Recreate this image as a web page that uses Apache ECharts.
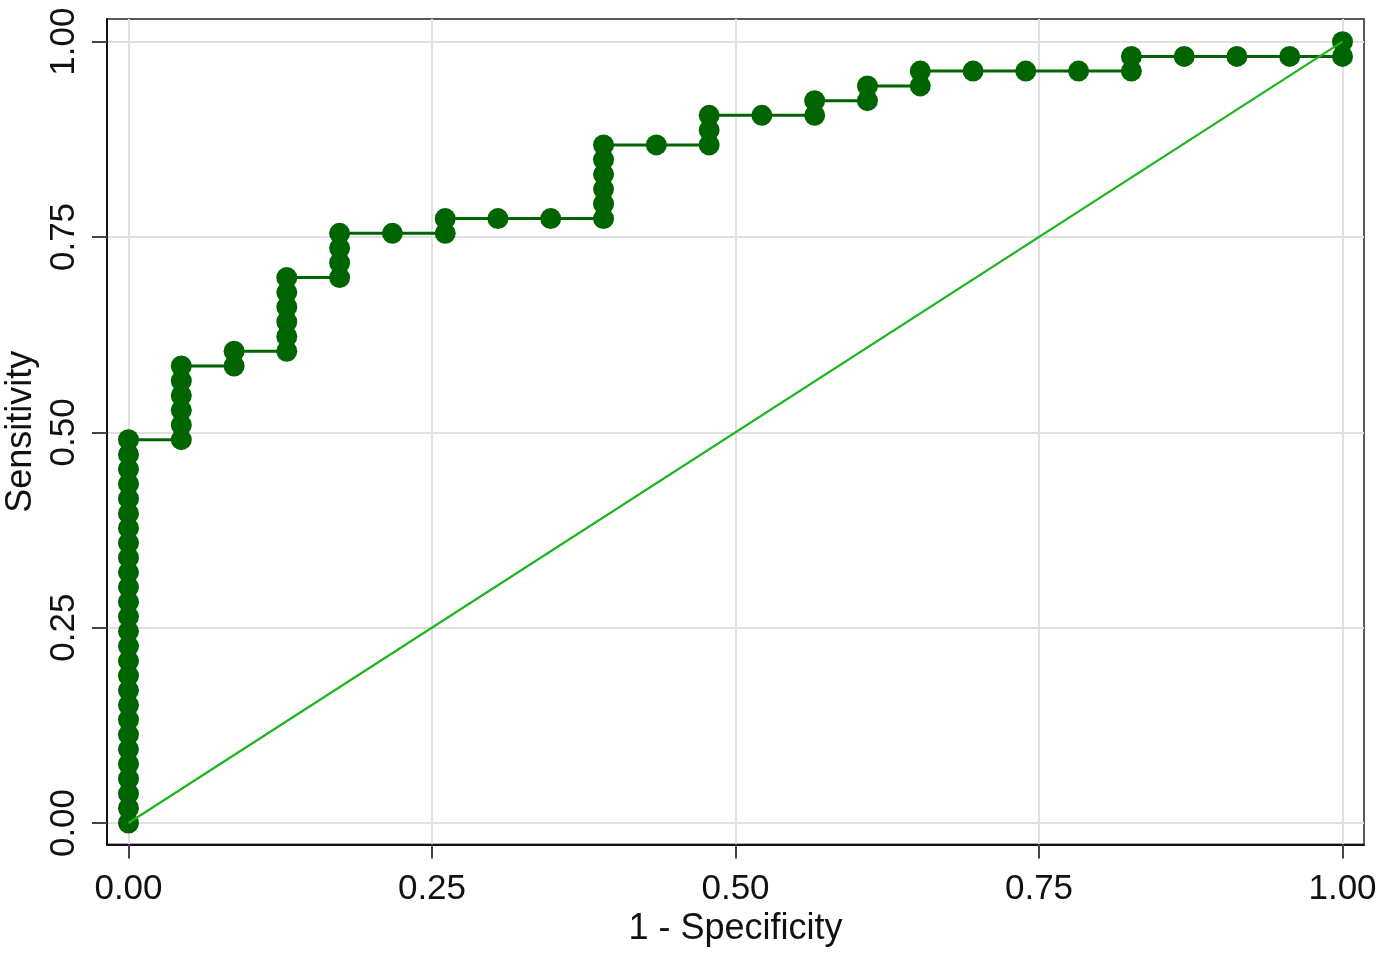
<!DOCTYPE html>
<html>
<head>
<meta charset="utf-8">
<script src="https://cdn.jsdelivr.net/npm/echarts@6/dist/echarts.min.js"></script>
<style>
html,body{margin:0;padding:0;background:#fff;}
#chart{width:1385px;height:953px;}
</style>
</head>
<body>
<div id="chart"></div>
<script>
// ROC points: 1 - Specificity (x) and Sensitivity (y)
const fpr = [
  0,0,0,0,0,0,0,0,0,0,0,0,0,0,0,0,0,0,0,0,0,0,0,0,0,0,0,
  0.0435,0.0435,0.0435,0.0435,0.0435,0.0435,
  0.0870,0.0870,
  0.1304,0.1304,0.1304,0.1304,0.1304,0.1304,
  0.1739,0.1739,0.1739,0.1739,
  0.2174,
  0.2609,0.2609,
  0.3043,
  0.3478,
  0.3913,0.3913,0.3913,0.3913,0.3913,0.3913,
  0.4348,
  0.4783,0.4783,0.4783,
  0.5217,
  0.5652,0.5652,
  0.6087,0.6087,
  0.6522,0.6522,
  0.6957,
  0.7391,
  0.7826,
  0.8261,0.8261,
  0.8696,
  0.9130,
  0.9565,
  1,1
];
const sensitivity = [
  0,0.0189,0.0377,0.0566,0.0755,0.0943,0.1132,0.1321,0.1509,0.1698,0.1887,0.2075,0.2264,0.2453,
  0.2642,0.2830,0.3019,0.3208,0.3396,0.3585,0.3774,0.3962,0.4151,0.4340,0.4528,0.4717,0.4906,
  0.4906,0.5094,0.5283,0.5472,0.5660,0.5849,
  0.5849,0.6038,
  0.6038,0.6226,0.6415,0.6604,0.6792,0.6981,
  0.6981,0.7170,0.7358,0.7547,
  0.7547,
  0.7547,0.7736,
  0.7736,
  0.7736,
  0.7736,0.7925,0.8113,0.8302,0.8491,0.8679,
  0.8679,
  0.8679,0.8868,0.9057,
  0.9057,
  0.9057,0.9245,
  0.9245,0.9434,
  0.9434,0.9623,
  0.9623,
  0.9623,
  0.9623,
  0.9623,0.9811,
  0.9811,
  0.9811,
  0.9811,
  0.9811,1
];
const referenceX = [0, 1];
const referenceY = [0, 1];
const tickValues = [0, 0.25, 0.5, 0.75, 1];
const xTitle = '1 - Specificity';
const yTitle = 'Sensitivity';

const rocData = fpr.map((x, i) => [x, sensitivity[i]]);
const refData = referenceX.map((x, i) => [x, referenceY[i]]);

const FONT = '"Liberation Sans", Arial, sans-serif';
const chart = echarts.init(document.getElementById('chart'), null, {renderer: 'canvas'});
chart.setOption({
  animation: false,
  backgroundColor: '#ffffff',
  grid: {
    left: 107, right: 21, top: 19, bottom: 108.5,
    outerBoundsMode: 'none', containLabel: false,
    show: true, borderColor: '#5a5a5a', borderWidth: 2, backgroundColor: '#ffffff'
  },
  xAxis: {
    type: 'value', min: -0.0177, max: 1.0177,
    name: xTitle, nameLocation: 'middle', nameGap: 62,
    nameTextStyle: {fontFamily: FONT, fontSize: 36, color: '#111'},
    axisLine: {show: true, onZero: false, lineStyle: {color: '#111', width: 2}},
    axisTick: {show: true, customValues: tickValues, length: 14, lineStyle: {color: '#444', width: 2}},
    axisLabel: {customValues: tickValues, margin: 27, fontFamily: FONT, fontSize: 35, color: '#111',
      formatter: v => v.toFixed(2)},
    splitLine: {show: true, lineStyle: {color: '#e0e0e0', width: 2}}
  },
  yAxis: {
    type: 'value', min: -0.0275, max: 1.029,
    name: yTitle, nameLocation: 'middle', nameGap: 61, nameRotate: 90,
    nameTextStyle: {fontFamily: FONT, fontSize: 36, color: '#111'},
    axisLine: {show: true, onZero: false, lineStyle: {color: '#111', width: 2}},
    axisTick: {show: true, customValues: tickValues, length: 15, lineStyle: {color: '#444', width: 2}},
    axisLabel: {customValues: tickValues, margin: 25, rotate: 90, fontFamily: FONT, fontSize: 35, color: '#111',
      formatter: v => v.toFixed(2)},
    splitLine: {show: true, lineStyle: {color: '#e0e0e0', width: 2}}
  },
  series: [
    {
      type: 'line', data: rocData, symbol: 'circle', symbolSize: 21, showAllSymbol: true,
      itemStyle: {color: '#006400'}, lineStyle: {color: '#006400', width: 3}, z: 2
    },
    {
      type: 'line', data: refData, symbol: 'none',
      lineStyle: {color: '#1db41d', width: 2.2}, z: 3
    }
  ]
});
</script>
</body>
</html>
